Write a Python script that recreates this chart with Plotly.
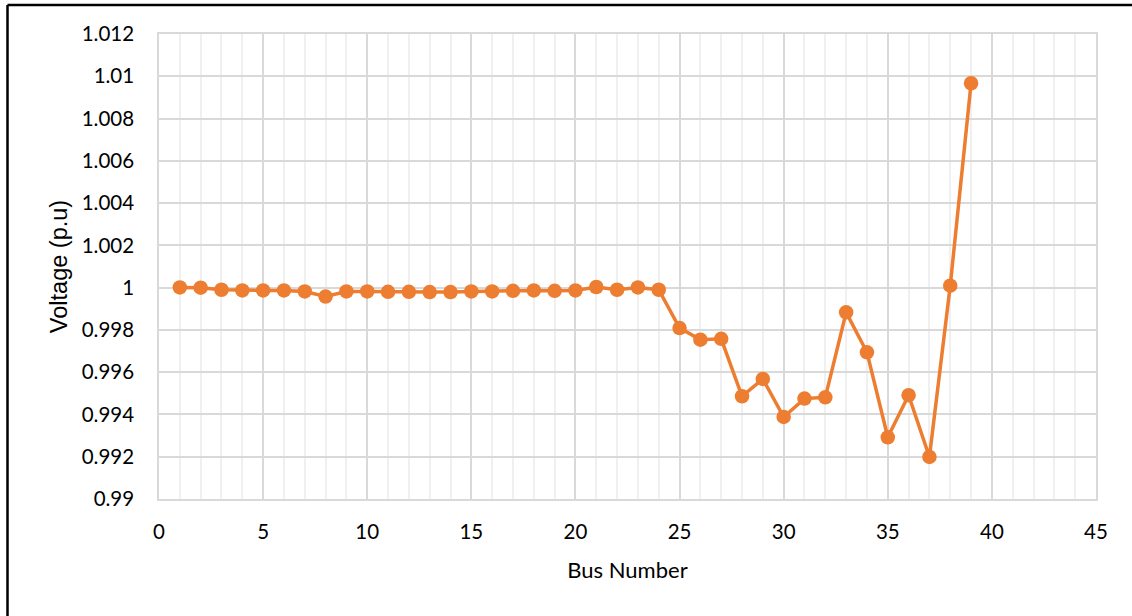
import plotly.graph_objects as go

# Bus voltage profile (per unit) for buses 1-39
bus_numbers = list(range(1, 40))
voltage_pu = [
    1.00001, 1.00000, 0.99990, 0.99987, 0.99987, 0.99987, 0.99982, 0.99958,
    0.99982, 0.99982, 0.99980, 0.99980, 0.99979, 0.99979, 0.99982, 0.99982,
    0.99985, 0.99987, 0.99985, 0.99987, 1.00003, 0.99990, 1.00001, 0.99990,
    0.99809, 0.99754, 0.99758, 0.99486, 0.99568, 0.99388, 0.99475, 0.99481,
    0.99883, 0.99694, 0.99292, 0.99491, 0.99199, 1.00009, 1.00967,
]

x_ticks = [0, 5, 10, 15, 20, 25, 30, 35, 40, 45]
y_ticks = [0.99, 0.992, 0.994, 0.996, 0.998, 1.0, 1.002, 1.004, 1.006, 1.008, 1.01, 1.012]
y_tick_text = ["0.99", "0.992", "0.994", "0.996", "0.998", "1", "1.002",
               "1.004", "1.006", "1.008", "1.01", "1.012"]

ORANGE = "#ED7D31"
MAJOR_GRID = "#d9d9d9"
MINOR_GRID = "#f0f0f0"
TICK_FONT = dict(family="Lato", size=20.5, color="#000000")

fig = go.Figure(
    go.Scatter(
        x=bus_numbers,
        y=voltage_pu,
        mode="lines+markers",
        line=dict(color=ORANGE, width=3.5),
        marker=dict(color=ORANGE, size=14.5),
        showlegend=False,
    )
)

fig.update_xaxes(
    range=[0, 45],
    tickvals=x_ticks,
    ticktext=[str(v) for v in x_ticks],
    tickfont=TICK_FONT,
    showgrid=True,
    gridcolor=MAJOR_GRID,
    gridwidth=1.5,
    minor=dict(dtick=1, showgrid=True, gridcolor=MINOR_GRID, gridwidth=1.5),
    showline=True,
    linecolor=MAJOR_GRID,
    linewidth=1.5,
    mirror=True,
    zeroline=False,
    ticks="",
    ticklabelstandoff=14,
    title=dict(text="Bus Number", font=dict(family="Lato", size=22, color="#000000"), standoff=20),
)

fig.update_yaxes(
    range=[0.99, 1.012],
    tickvals=y_ticks,
    ticktext=y_tick_text,
    tickfont=TICK_FONT,
    showgrid=True,
    gridcolor=MAJOR_GRID,
    gridwidth=1.5,
    showline=True,
    linecolor=MAJOR_GRID,
    linewidth=1.5,
    mirror=True,
    zeroline=False,
    ticks="",
    ticklabelstandoff=19,
    title=dict(text="Voltage (p.u)", font=dict(family="Liberation Sans", size=23.5, color="#000000"), standoff=8),
)

# Chart frame: only its top and left edges fall inside the page
plot_left, plot_right, plot_top, plot_bottom = 159, 1096, 34, 499.5
pw, ph = plot_right - plot_left, plot_bottom - plot_top
frame_x = (7.5 - plot_left) / pw
frame_y = (plot_bottom - 5) / ph
fig.add_shape(type="line", xref="paper", yref="paper", x0=frame_x, x1=frame_x,
              y0=-0.5, y1=frame_y, line=dict(color="#000000", width=2.5))
fig.add_shape(type="line", xref="paper", yref="paper", x0=frame_x, x1=1.5,
              y0=frame_y, y1=frame_y, line=dict(color="#000000", width=2.5))

fig.update_layout(
    width=1132,
    height=616,
    margin=dict(l=plot_left, r=1132 - plot_right, t=plot_top, b=616 - plot_bottom),
    paper_bgcolor="#ffffff",
    plot_bgcolor="#ffffff",
)

fig.write_html("out.html")
